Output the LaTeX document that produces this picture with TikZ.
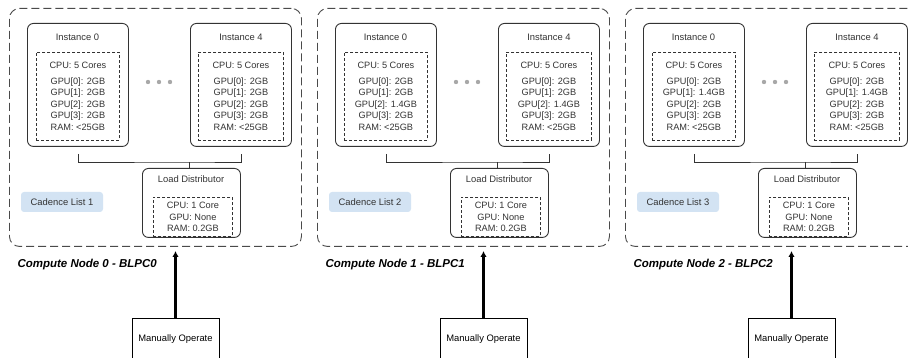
\documentclass[tikz,border=0pt]{standalone}
\usepackage{fontspec}
\setmainfont{Liberation Sans}
\usetikzlibrary{arrows.meta}
\definecolor{ink}{HTML}{333333}
\definecolor{frame}{HTML}{4A4A4A}
\definecolor{cadfill}{HTML}{D3E3F3}
\definecolor{dotgrey}{HTML}{A8A8A8}

\tikzset{
  panel/.style={draw=frame, line width=0.9pt, dash pattern=on 8pt off 4pt,
    rounded corners=10pt, anchor=north west, inner sep=0pt,
    minimum width=292pt, minimum height=238pt},
  instbox/.style={draw=ink, line width=0.9pt, rounded corners=6pt,
    anchor=north west, inner sep=0pt, minimum width=101pt, minimum height=123pt},
  specbox/.style={draw=ink, line width=0.8pt, dash pattern=on 3pt off 2pt,
    anchor=north west, inner sep=0pt, align=center,
    font=\fontsize{9.2}{11.5}\selectfont},
  ldbox/.style={draw=ink, line width=0.9pt, rounded corners=6pt,
    anchor=north west, inner sep=0pt, minimum width=98pt, minimum height=69pt},
  cadbox/.style={fill=cadfill, rounded corners=3pt, inner sep=0pt,
    minimum width=82pt, minimum height=20pt},
  dotmark/.style={circle, fill=dotgrey, inner sep=0pt, minimum size=4.4pt},
  caption/.style={anchor=west, text=black,
    font=\fontsize{11.5}{13}\selectfont\bfseries\itshape},
  manualbox/.style={draw=black, line width=0.8pt, anchor=north, text=black,
    minimum width=87pt, minimum height=42pt, inner sep=0pt},
  wire/.style={draw=ink, line width=0.9pt},
  feed/.style={draw=black, line width=2.4pt, -{Latex[length=6pt,width=6.5pt]}},
}

\begin{document}
\begin{tikzpicture}[x=1pt, y=-1pt, text=ink,
    font=\fontsize{9.4}{11.5}\selectfont]
  \useasboundingbox (0,0) rectangle (908,358);

  \foreach \p/\ga/\gb/\cad in {0/2GB/2GB/1, 1/2GB/1.4GB/2, 2/1.4GB/2GB/3} {
    \begin{scope}[xshift=\p*308+9]
      % compute node frame
      \node[panel] (panel\p) at (0,8) {};

      % instance 0
      \node[instbox] (ia\p) at (18,23) {};
      \node (ta\p) at (68.5,37) {Instance 0};
      \node[specbox, minimum width=83pt, minimum height=88pt] (sa\p) at (27,52)
        {CPU: 5 Cores\\[4pt]GPU[0]: 2GB\\GPU[1]: \ga\\GPU[2]: \gb\\GPU[3]: 2GB\\RAM: <25GB};

      % instance 4
      \node[instbox] (ib\p) at (181,23) {};
      \node (tb\p) at (232,37) {Instance 4};
      \node[specbox, minimum width=85pt, minimum height=88pt] (sb\p) at (189,52)
        {CPU: 5 Cores\\[4pt]GPU[0]: 2GB\\GPU[1]: \ga\\GPU[2]: \gb\\GPU[3]: 2GB\\RAM: <25GB};

      % ellipsis between instances
      \node[dotmark] (da\p) at (139,82) {};
      \node[dotmark] (db\p) at (150,82) {};
      \node[dotmark] (dc\p) at (161,82) {};

      % load distributor
      \node[ldbox] (ld\p) at (133,168) {};
      \node (tl\p) at (182,179) {Load Distributor};
      \node[specbox, minimum width=79pt, minimum height=39pt] (sl\p) at (144,197)
        {CPU: 1 Core\\GPU: None\\RAM: 0.2GB};

      % bus joining the instances to the distributor
      \coordinate (bus\p) at (180,162);
      \draw[wire] ([yshift=-7pt]ia\p.south) |- (bus\p) -| ([yshift=-7pt]ib\p.south);
      \draw[wire] (bus\p) -- (bus\p |- ld\p.north);

      % cadence list tag
      \node[cadbox] (cad\p) at (53,202) {Cadence List \cad};

      % node caption
      \node[caption] (cap\p) at (5,265) {Compute Node \p\ - BLPC\p};

      % manual operation feeding the node
      \node[manualbox] (mo\p) at (166.5,318) {Manually Operate};
      \coordinate (tip\p) at (166.5,251);
      \draw[feed] (mo\p.north) -- (tip\p);
    \end{scope}
  }
\end{tikzpicture}
\end{document}
